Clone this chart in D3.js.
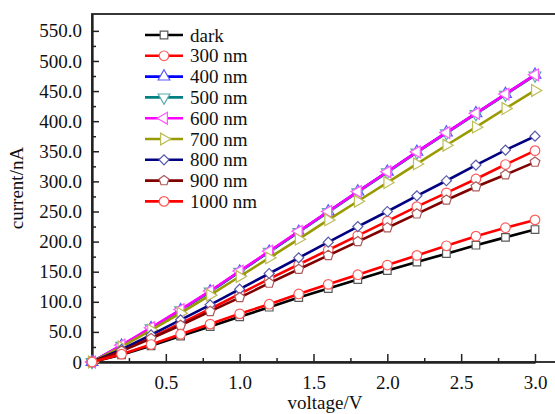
<!DOCTYPE html>
<html>
<head>
  <meta charset="utf-8">
  <script src="https://d3js.org/d3.v7.min.js"></script>
  <style>
    body { margin: 0; background: #fff; }
    text { font-family: "Liberation Serif", "Times New Roman", serif; fill: #111; }
  </style>
</head>
<body>
  <div id="chart"></div>
  <script>
    // voltage steps (V)
    var voltage = [0, 0.2, 0.4, 0.6, 0.8, 1.0, 1.2, 1.4, 1.6, 1.8, 2.0, 2.2, 2.4, 2.6, 2.8, 3.0];

    // current (nA) per illumination
    var dark    = [0, 12, 27, 43, 59, 75, 91, 107, 122, 137, 152, 166, 180, 194, 207, 220];
    var nm300   = [0, 19, 41, 64, 88, 113, 138, 162, 186, 210, 234, 258, 281, 304, 328, 351];
    var nm400   = [0, 27, 56, 86, 117, 150, 183, 216, 250, 283, 316, 349, 381, 413, 445, 477];
    var nm500   = [0, 27, 56, 86, 117, 150, 183, 216, 249, 282, 315, 348, 380, 412, 444, 476];
    var nm600   = [0, 28, 57, 87, 118, 151, 184, 217, 250, 283, 316, 349, 381, 413, 445, 477];
    var nm700   = [0, 25, 53, 81, 111, 142, 173, 204, 236, 267, 298, 329, 360, 390, 421, 451];
    var nm800   = [0, 21, 45, 70, 95, 121, 147, 173, 199, 225, 250, 276, 301, 327, 352, 375];
    var nm900   = [0, 18, 39, 61, 84, 107, 131, 154, 177, 200, 223, 246, 269, 291, 311, 332];
    var nm1000  = [0, 13, 29, 46, 63, 80, 96, 113, 129, 145, 161, 177, 193, 209, 223, 236];

    var seriesNames = ["dark", "300 nm", "400 nm", "500 nm", "600 nm", "700 nm", "800 nm", "900 nm", "1000 nm"];
    var seriesValues = [dark, nm300, nm400, nm500, nm600, nm700, nm800, nm900, nm1000];
    var seriesColors = ["#000000", "#ff0000", "#0000ff", "#008080", "#ff00ff", "#999900", "#000080", "#800000", "#ff0000"];
    var seriesShapes = ["square", "circle", "up", "down", "left", "right", "diamond", "pentagon", "circle"];

    var yTicks = [0, 50, 100, 150, 200, 250, 300, 350, 400, 450, 500, 550];
    var xTicks = [0.5, 1.0, 1.5, 2.0, 2.5, 3.0];

    var W = 555, H = 414;
    var margin = { top: 14, left: 92, bottom: 362 };

    var svg = d3.select("#chart")
                .append("svg")
                .attr("width", W)
                .attr("height", H);

    var xScale = d3.scaleLinear()
                   .domain([0, 3.0])
                   .range([margin.left, 535]);

    var yScale = d3.scaleLinear()
                   .domain([0, 578])
                   .range([margin.bottom, margin.top]);

    // frame
    svg.append("rect")
       .attr("x", margin.left)
       .attr("y", margin.top)
       .attr("width", 600)
       .attr("height", margin.bottom - margin.top)
       .attr("fill", "none")
       .attr("stroke", "#222")
       .attr("stroke-width", 1.8);

    // x axis (ticks pointing inward)
    var xAxis = svg.append("g")
       .attr("transform", `translate(0, ${margin.bottom})`)
       .call(d3.axisBottom(xScale).tickValues(xTicks).tickFormat(d3.format(".1f"))
               .tickSizeInner(-8).tickSizeOuter(0).tickPadding(14));
    xAxis.selectAll("text").style("font-size", "19px").attr("dy", "0.71em");

    svg.append("g")
       .attr("transform", `translate(0, ${margin.bottom})`)
       .call(d3.axisBottom(xScale).tickValues([0.25, 0.75, 1.25, 1.75, 2.25, 2.75])
               .tickFormat("").tickSizeInner(-4).tickSizeOuter(0));

    // y axis
    var yAxis = svg.append("g")
       .attr("transform", `translate(${margin.left}, 0)`)
       .call(d3.axisLeft(yScale).tickValues(yTicks)
               .tickFormat(d => d === 0 ? "0" : d3.format(".1f")(d))
               .tickSizeInner(-7).tickSizeOuter(0).tickPadding(10));
    yAxis.selectAll("text").style("font-size", "19px");

    svg.append("g")
       .attr("transform", `translate(${margin.left}, 0)`)
       .call(d3.axisLeft(yScale).tickValues(d3.range(25, 550, 50))
               .tickFormat("").tickSizeInner(-4).tickSizeOuter(0));

    svg.selectAll(".domain").attr("stroke", "#222").attr("stroke-width", 1.8);
    svg.selectAll(".tick line").attr("stroke", "#222").attr("stroke-width", 1.5);

    // axis titles
    svg.append("text")
       .attr("x", 325)
       .attr("y", 409)
       .style("text-anchor", "middle")
       .style("font-size", "19px")
       .text("voltage/V");

    svg.append("text")
       .attr("transform", "rotate(-90)")
       .attr("x", -188)
       .attr("y", 23)
       .style("text-anchor", "middle")
       .style("font-size", "19px")
       .text("current/nA");

    // marker shapes
    var pentagon = {
      draw: function(context, size) {
        var r = Math.sqrt(size / 2.38);
        for (var i = 0; i < 5; i++) {
          var a = -Math.PI / 2 + i * 2 * Math.PI / 5;
          if (i === 0) context.moveTo(r * Math.cos(a), r * Math.sin(a));
          else context.lineTo(r * Math.cos(a), r * Math.sin(a));
        }
        context.closePath();
      }
    };
    var shapeInfo = {
      square:   { type: d3.symbolSquare, size: 58, rot: 0 },
      circle:   { type: d3.symbolCircle, size: 72, rot: 0 },
      up:       { type: d3.symbolTriangle, size: 60, rot: 0 },
      down:     { type: d3.symbolTriangle, size: 60, rot: 180 },
      left:     { type: d3.symbolTriangle, size: 60, rot: -90 },
      right:    { type: d3.symbolTriangle, size: 60, rot: 90 },
      diamond:  { type: d3.symbolSquare, size: 50, rot: 45 },
      pentagon: { type: pentagon, size: 62, rot: 0 }
    };

    function markerPath(shape) {
      var s = shapeInfo[shape];
      return d3.symbol().type(s.type).size(s.size)();
    }

    var line = d3.line()
                 .x((d, i) => xScale(voltage[i]))
                 .y(d => yScale(d));

    seriesValues.forEach(function(vals, k) {
      var color = seriesColors[k];
      var mcolor = d3.interpolateRgb(color, "#ffffff")(0.35);
      var s = shapeInfo[seriesShapes[k]];
      var g = svg.append("g");
      g.append("path")
       .datum(vals)
       .attr("fill", "none")
       .attr("stroke", color)
       .attr("stroke-width", 2.6)
       .attr("d", line);
      g.selectAll("path.marker")
       .data(vals)
       .enter()
       .append("path")
       .attr("class", "marker")
       .attr("d", markerPath(seriesShapes[k]))
       .attr("transform", (d, i) => `translate(${xScale(voltage[i])},${yScale(d)}) rotate(${s.rot})`)
       .attr("fill", "#fff")
       .attr("stroke", mcolor)
       .attr("stroke-width", 1.2);
    });

    // legend
    var legend = svg.append("g");
    seriesNames.forEach(function(name, k) {
      var y = 35 + k * 20.8;
      var color = seriesColors[k];
      var mcolor = d3.interpolateRgb(color, "#ffffff")(0.35);
      var s = shapeInfo[seriesShapes[k]];
      legend.append("line")
            .attr("x1", 145).attr("x2", 183)
            .attr("y1", y).attr("y2", y)
            .attr("stroke", color)
            .attr("stroke-width", 2.6);
      legend.append("path")
            .attr("d", markerPath(seriesShapes[k]))
            .attr("transform", `translate(164,${y}) rotate(${s.rot})`)
            .attr("fill", "#fff")
            .attr("stroke", mcolor)
            .attr("stroke-width", 1.2);
      legend.append("text")
            .attr("x", 190)
            .attr("y", y)
            .attr("dy", "0.35em")
            .style("font-size", "19px")
            .text(name);
    });
  </script>
</body>
</html>
